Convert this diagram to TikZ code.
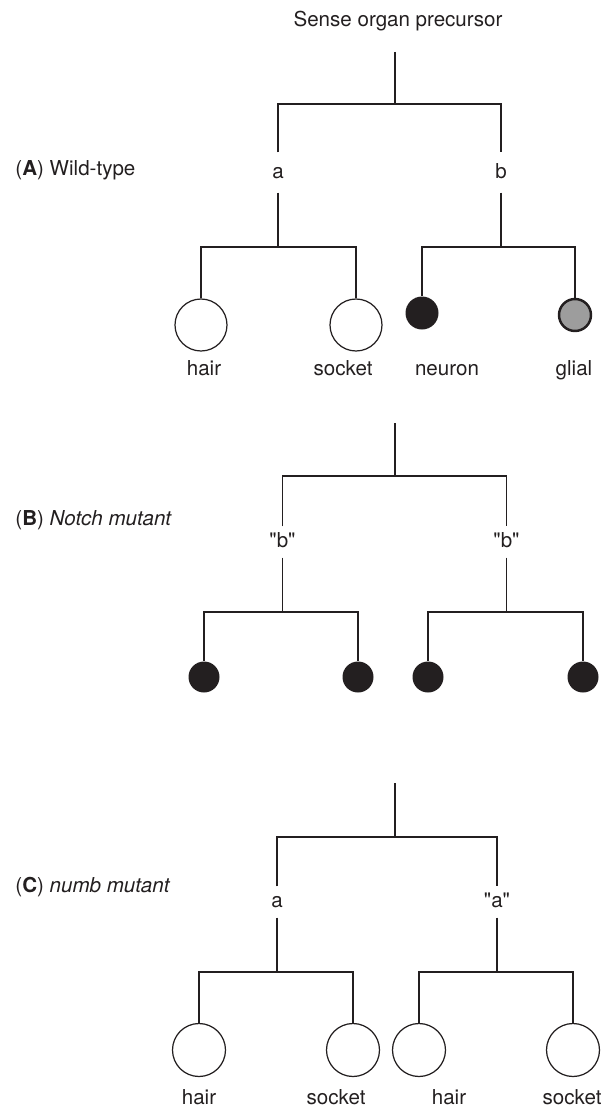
\documentclass[tikz,border=0pt]{standalone}
\usepackage{fontspec}
\setmainfont{TeX Gyre Heros}
\usepackage{xcolor}
\usepackage{tikz}

\definecolor{ink}{HTML}{231F20}
\definecolor{gliagrey}{HTML}{9D9D9D}

\begin{document}
\begin{tikzpicture}[
    color=ink,
    line width=0.7pt,
    every node/.style={font=\fontsize{11.7}{14}\selectfont},
    fate/.style={inner sep=0pt, minimum height=0.6cm, text height=1.5ex, text depth=0.25ex},
    cell/.style={circle, draw, fill=white, inner sep=0pt, minimum size=1.04cm},
    dark/.style={circle, fill=ink, inner sep=0pt, minimum size=0.66cm},
    tag/.style={anchor=base}
]
    \useasboundingbox (0,0) rectangle (12.04,-22.2);

    % (A) wild-type
    \node[tag] (title) at (7.96,-0.54) {Sense organ precursor};
    \node[tag, anchor=base west] (panelA) at (0.18,-3.50) {(\textbf{A}) Wild-type};
    \coordinate (rootA) at (7.90,-1.04);
    \coordinate (splitA) at (7.90,-2.08);
    \node[fate, minimum height=0.78cm] (aA) at (5.56,-3.45) {a};
    \node[fate, minimum height=0.78cm] (bA) at (10.02,-3.45) {b};
    \coordinate (splitAa) at (5.56,-4.94);
    \coordinate (splitAb) at (10.02,-4.94);
    \node[cell] (hairA) at (4.02,-6.50) {};
    \node[cell] (socketA) at (7.12,-6.50) {};
    \node[dark] (neuronA) at (8.44,-6.26) {};
    \node[circle, draw, line width=1.4pt, fill=gliagrey, inner sep=0pt, minimum size=0.64cm] (glialA) at (11.50,-6.30) {};
    \node[tag] (hairAl) at (4.08,-7.50) {hair};
    \node[tag] (socketAl) at (6.86,-7.50) {socket};
    \node[tag] (neuronAl) at (8.94,-7.50) {neuron};
    \node[tag] (glialAl) at (11.48,-7.50) {glial};

    \draw (rootA) -- (splitA);
    \draw (aA.north) |- (splitA) -| (bA.north);
    \draw (aA.south) -- (splitAa);
    \draw (bA.south) -- (splitAb);
    \draw (hairA.north) |- (splitAa) -| (socketA.north);
    \draw (neuronA.north) |- (splitAb) -| (glialA.north);

    % (B) Notch mutant
    \node[tag, anchor=base west] (panelB) at (0.18,-10.50) {(\textbf{B}) \textit{Notch mutant}};
    \coordinate (rootB) at (7.90,-8.46);
    \coordinate (splitB) at (7.90,-9.52);
    \node[fate] (bB1) at (5.65,-10.84) {\textquotedbl b\textquotedbl};
    \node[fate] (bB2) at (10.13,-10.84) {\textquotedbl b\textquotedbl};
    \coordinate (splitBa) at (5.65,-12.24);
    \coordinate (splitBb) at (10.13,-12.24);
    \node[dark, minimum size=0.62cm] (nB1) at (4.08,-13.54) {};
    \node[dark, minimum size=0.62cm] (nB2) at (7.16,-13.54) {};
    \node[dark, minimum size=0.62cm] (nB3) at (8.56,-13.54) {};
    \node[dark, minimum size=0.62cm] (nB4) at (11.66,-13.54) {};

    \draw (rootB) -- (splitB);
    \draw (bB1.north) |- (splitB) -| (bB2.north);
    \draw (bB1.south) -- (splitBa);
    \draw (bB2.south) -- (splitBb);
    \draw (nB1.north) |- (splitBa) -| (nB2.north);
    \draw (nB3.north) |- (splitBb) -| (nB4.north);

    % (C) numb mutant
    \node[tag, anchor=base west] (panelC) at (0.18,-17.84) {(\textbf{C}) \textit{numb mutant}};
    \coordinate (rootC) at (7.90,-15.66);
    \coordinate (splitC) at (7.90,-16.74);
    \node[fate] (aC1) at (5.54,-18.04) {a};
    \node[fate] (aC2) at (9.94,-18.04) {\textquotedbl a\textquotedbl};
    \coordinate (splitCa) at (5.54,-19.44);
    \coordinate (splitCb) at (9.94,-19.44);
    \node[cell, minimum size=1.06cm] (hairC1) at (3.98,-21.00) {};
    \node[cell, minimum size=1.06cm] (socketC1) at (7.06,-21.00) {};
    \node[cell, minimum size=1.06cm] (hairC2) at (8.38,-21.00) {};
    \node[cell, minimum size=1.06cm] (socketC2) at (11.46,-21.00) {};
    \node[tag] (hairC1l) at (3.98,-22.08) {hair};
    \node[tag] (socketC1l) at (6.72,-22.08) {socket};
    \node[tag] (hairC2l) at (8.98,-22.08) {hair};
    \node[tag] (socketC2l) at (11.44,-22.08) {socket};

    \draw (rootC) -- (splitC);
    \draw (aC1.north) |- (splitC) -| (aC2.north);
    \draw (aC1.south) -- (splitCa);
    \draw (aC2.south) -- (splitCb);
    \draw (hairC1.north) |- (splitCa) -| (socketC1.north);
    \draw (hairC2.north) |- (splitCb) -| (socketC2.north);
\end{tikzpicture}
\end{document}
